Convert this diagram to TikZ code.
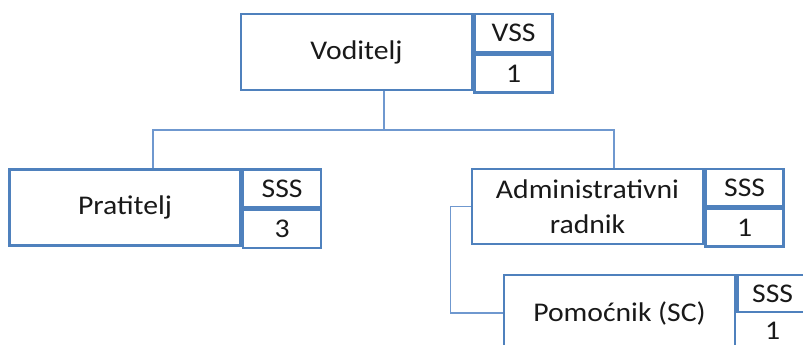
\documentclass[tikz,border=0pt]{standalone}
\usepackage{fontspec}
\setmainfont{Carlito}[FakeStretch=1.1]
\usetikzlibrary{positioning}
\definecolor{boxblue}{HTML}{4F81BD}
\definecolor{linkblue}{HTML}{6F98CF}
\tikzset{
  job/.style={draw=boxblue, line width=2.6pt, minimum width=231pt,
    minimum height=76pt, inner sep=0pt, align=center,
    font=\fontsize{27}{35}\selectfont, text=black!90},
  cell/.style={draw=boxblue, line width=2.6pt, minimum width=78pt,
    minimum height=38pt, inner sep=0pt,
    font=\fontsize{27}{35}\selectfont, text=black!90},
  link/.style={draw=linkblue, line width=1.3pt}
}
\begin{document}
\begin{tikzpicture}[x=1pt,y=-1pt]
        \clip (0,0) rectangle (803,345);
        %% Voditelj
        \node[job] (vod) at (356.5,52) {Voditelj};
        \node[cell,anchor=north west] (vodK) at (vod.north east) {VSS};
        \node[cell,below=0pt of vodK] (vodN) {1};
        %% Pratitelj
        \node[job] (prat) at (125,207.5) {Pratitelj};
        \node[cell,anchor=north west] (pratK) at (prat.north east) {SSS};
        \node[cell,below=0pt of pratK] (pratN) {3};
        %% Administrativni radnik
        \node[job,minimum height=75pt] (adm) at (587.5,206.5) {Administrativni\\radnik};
        \node[cell,anchor=north west,minimum height=37.5pt] (admK) at (adm.north east) {SSS};
        \node[cell,below=0pt of admK,minimum height=37.5pt] (admN) {1};
        %% Pomocnik (bottom and right edge lie outside the page)
        \node[job] (pom) at (619.5,313) {Pomoćnik (SC)};
        \node[cell,anchor=north west,minimum width=70pt,minimum height=37pt] (pomK) at (pom.north east) {SSS};
        \node[cell,draw=none,below=0pt of pomK,minimum width=70pt,minimum height=33pt] (pomN) {1};
        %% Lines
        \coordinate (jV) at (384,130);
        \coordinate (jP) at (153,130);
        \coordinate (jA) at (614,130);
        \draw[link] (vod.south -| jV) -- (jV);
        \draw[link] (prat.north -| jP) -- (jP) -- (jA) -- (adm.north -| jA);
        \draw[link] (adm.west) -- ++(-20,0) |- (pom.west);
\end{tikzpicture}
\end{document}
